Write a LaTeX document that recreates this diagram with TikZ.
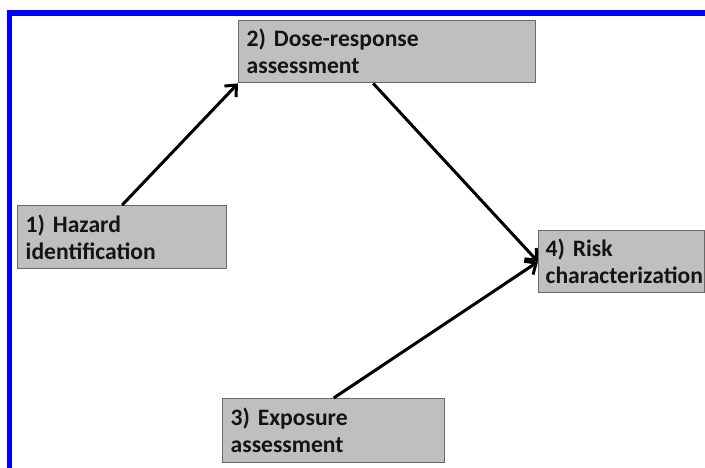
\documentclass[tikz,border=0pt]{standalone}
\usepackage{fontspec}
\setmainfont{Carlito}
\usetikzlibrary{arrows.meta}
\definecolor{boxfill}{RGB}{191,191,191}
\definecolor{boxline}{RGB}{105,105,105}
\definecolor{frameblue}{RGB}{0,0,255}
\definecolor{textdark}{RGB}{20,20,20}
\begin{document}
\begin{tikzpicture}[x=1pt,y=-1pt,
  stage/.style={draw=boxline, line width=1.4pt, fill=boxfill, anchor=north west,
    align=left, inner xsep=8pt, inner ysep=0pt, text=textdark,
    font=\fontsize{23.6}{27}\selectfont\bfseries},
  flow/.style={line width=3pt, -{Straight Barb[length=9pt,width=16pt]}}]
\useasboundingbox (0,0) rectangle (705,468);
\fill[white] (0,0) rectangle (705,468);
% blue frame (top and left edges)
\fill[frameblue] (7,10) rectangle (705,16);
\fill[frameblue] (7,10) rectangle (12,468);
% the four stages
\node[stage, minimum width=209pt, minimum height=63pt, text width=193pt] (haz) at (17,205) {1) Hazard\\identification};
\node[stage, minimum width=297pt, minimum height=62pt, text width=281pt] (dose) at (238,20) {2) Dose-response\\assessment};
\node[stage, minimum width=222pt, minimum height=64pt, text width=206pt] (expo) at (222,398) {3) Exposure\\assessment};
\node[stage, minimum width=166pt, minimum height=62pt, text width=152pt, inner xsep=7pt] (risk) at (538,230) {4) Risk\\characterization};
% connectors
\draw[flow] (haz.north) -- (dose.south west);
\draw[flow] ([xshift=-14pt]dose.south) -- (risk.west);
\draw[flow] (expo.north) -- (risk.west);
\end{tikzpicture}
\end{document}
